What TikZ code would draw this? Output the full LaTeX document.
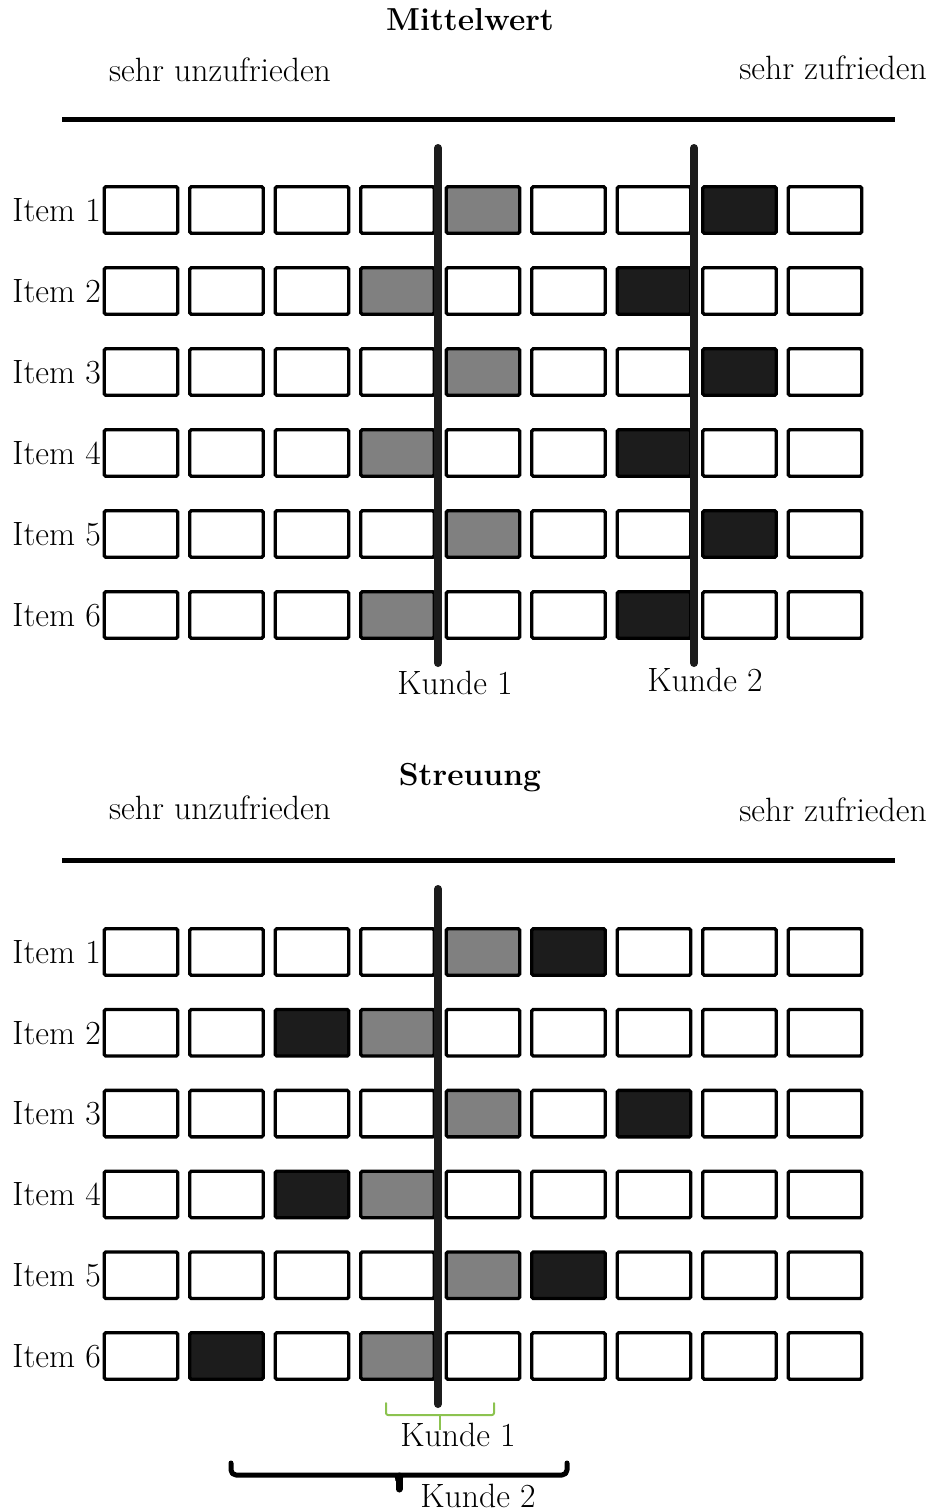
\documentclass[tikz,border=0pt]{standalone}
\usepackage{fontspec}
\definecolor{dark}{HTML}{1C1C1C}
\definecolor{braceg}{RGB}{140,195,80}
\begin{document}
\begin{tikzpicture}[x=1pt,y=-1pt,
  cell/.style={draw=black,line width=3.3pt,rounded corners=1.5pt,minimum width=73.5pt,minimum height=46.5pt,inner sep=0pt,fill=white},
  mid/.style={cell,fill=gray},
  hi/.style={cell,fill=dark},
  lbl/.style={inner sep=0pt,font=\fontsize{33.7}{40}\selectfont},
  ttl/.style={inner sep=0pt,font=\fontsize{31.8}{38}\selectfont\bfseries},
  kline/.style={line width=8pt,draw=dark,line cap=round},
  axisline/.style={line width=5pt,draw=black},
  bracketline/.style={rounded corners=5pt,line cap=round,line join=round},
]
\useasboundingbox (0,0) rectangle (935,1512);

% ---------- Top: Mittelwert ----------
\node[ttl] (t-title) at (470,20) {Mittelwert};
\node[lbl] (t-left) at (220,70) {sehr unzufrieden};
\node[lbl] (t-right) at (833,68) {sehr zufrieden};
\coordinate (t-axl) at (62,119);
\coordinate (t-axr) at (895,119);
\draw[axisline] (t-axl) -- (t-axr);

\foreach \j/\g/\d in {1/5/8,2/4/7,3/5/8,4/4/7,5/5/8,6/4/7}{
  \node[lbl,anchor=east] (t-lab-\j) at (101,{210+81*(\j-1)}) {Item \j};
  \foreach \i in {1,...,9}{
    \def\st{cell}%
    \ifnum\i=\g\relax\def\st{mid}\fi
    \ifnum\i=\d\relax\def\st{hi}\fi
    \node[\st] (t-\j-\i) at ({141+85.5*(\i-1)},{210+81*(\j-1)}) {};
  }
}
\coordinate (t-k1top) at (438,148);
\coordinate (t-k1bot) at (438,663);
\coordinate (t-k2top) at (694,148);
\coordinate (t-k2bot) at (694,663);
\draw[kline] (t-k1top) -- (t-k1bot);
\draw[kline] (t-k2top) -- (t-k2bot);
\node[lbl] (t-k1) at (455,683) {Kunde 1};
\node[lbl] (t-k2) at (705,680) {Kunde 2};

% ---------- Bottom: Streuung ----------
\node[ttl] (b-title) at (470,778) {Streuung};
\node[lbl] (b-left) at (220,808) {sehr unzufrieden};
\node[lbl] (b-right) at (833,810) {sehr zufrieden};
\coordinate (b-axl) at (62,860);
\coordinate (b-axr) at (895,860);
\draw[axisline] (b-axl) -- (b-axr);

\foreach \j/\g/\d in {1/5/6,2/4/3,3/5/7,4/4/3,5/5/6,6/4/2}{
  \node[lbl,anchor=east] (b-lab-\j) at (101,{952+80.8*(\j-1)}) {Item \j};
  \foreach \i in {1,...,9}{
    \def\st{cell}%
    \ifnum\i=\g\relax\def\st{mid}\fi
    \ifnum\i=\d\relax\def\st{hi}\fi
    \node[\st] (b-\j-\i) at ({141+85.5*(\i-1)},{952+80.8*(\j-1)}) {};
  }
}
\coordinate (b-k1top) at (438,889);
\coordinate (b-k1bot) at (438,1404);
\draw[kline] (b-k1top) -- (b-k1bot);

% green bracket (Kunde 1)
\coordinate (g-l) at (386,1403);
\coordinate (g-r) at (494,1403);
\coordinate (g-tip) at (440,1430);
\draw[bracketline,rounded corners=2pt,draw=braceg,line width=2pt]
  (g-l) -- (386,1415) -- (494,1415) -- (g-r);
\draw[draw=braceg,line width=2pt] (440,1415) -- (g-tip);
\node[lbl] (b-k1) at (458,1435) {Kunde 1};

% black bracket (Kunde 2)
\coordinate (k-l) at (231,1463);
\coordinate (k-r) at (567,1463);
\coordinate (k-tip) at (399,1489);
\draw[bracketline,line width=5pt,draw=black]
  (k-l) -- (231,1475) -- (567,1475) -- (k-r);
\draw[line width=7pt,line cap=round] (399,1476) -- (k-tip);
\fill (392,1475) .. controls (395,1476) and (395.5,1478) .. (395.5,1481) -- (402.5,1481)
  .. controls (402.5,1478) and (403,1476) .. (406,1475) -- cycle;
\node[lbl] (b-k2) at (478,1496) {Kunde 2};
\end{tikzpicture}
\end{document}
